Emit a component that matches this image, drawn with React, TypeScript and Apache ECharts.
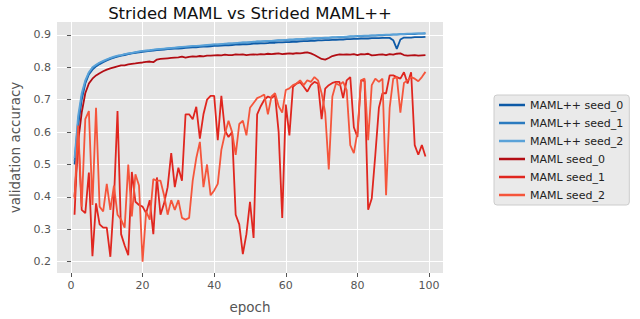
import React, { useEffect, useRef } from "react";
import * as echarts from "echarts";

const epochs: number[] = Array.from({ length: 99 }, (_, i) => i + 1);

const mamlppSeed0 = [
  0.50, 0.62, 0.70, 0.75, 0.778, 0.793, 0.803, 0.81, 0.816, 0.821,
  0.826, 0.83, 0.833, 0.836, 0.838, 0.841, 0.843, 0.845, 0.846, 0.848,
  0.849, 0.851, 0.852, 0.853, 0.854, 0.855, 0.856, 0.857, 0.858, 0.858,
  0.859, 0.86, 0.861, 0.862, 0.862, 0.863, 0.864, 0.864, 0.865, 0.866,
  0.866, 0.867, 0.868, 0.868, 0.869, 0.87, 0.87, 0.871, 0.871, 0.872,
  0.873, 0.873, 0.874, 0.874, 0.875, 0.876, 0.876, 0.877, 0.877, 0.878,
  0.878, 0.879, 0.879, 0.88, 0.881, 0.881, 0.882, 0.882, 0.883, 0.883,
  0.884, 0.884, 0.885, 0.885, 0.886, 0.886, 0.887, 0.887, 0.888, 0.888,
  0.889, 0.889, 0.889, 0.89, 0.89, 0.89, 0.891, 0.891, 0.891, 0.884,
  0.857, 0.886, 0.892, 0.892, 0.892, 0.893, 0.893, 0.893, 0.894,
];

const mamlppSeed1 = [
  0.51, 0.635, 0.71, 0.755, 0.782, 0.797, 0.806, 0.813, 0.818, 0.823,
  0.828, 0.831, 0.835, 0.837, 0.84, 0.842, 0.844, 0.846, 0.848, 0.85,
  0.851, 0.852, 0.854, 0.855, 0.856, 0.857, 0.858, 0.859, 0.86, 0.861,
  0.862, 0.863, 0.864, 0.865, 0.865, 0.866, 0.867, 0.868, 0.869, 0.87,
  0.87, 0.871, 0.872, 0.873, 0.873, 0.874, 0.875, 0.876, 0.876, 0.877,
  0.878, 0.879, 0.879, 0.88, 0.881, 0.881, 0.882, 0.883, 0.883, 0.884,
  0.885, 0.885, 0.886, 0.886, 0.887, 0.888, 0.888, 0.889, 0.889, 0.89,
  0.891, 0.891, 0.892, 0.892, 0.893, 0.893, 0.894, 0.895, 0.895, 0.896,
  0.896, 0.897, 0.897, 0.898, 0.898, 0.899, 0.899, 0.9, 0.9, 0.901,
  0.901, 0.902, 0.902, 0.903, 0.903, 0.903, 0.904, 0.904, 0.904,
];

const mamlppSeed2 = [
  0.52, 0.65, 0.72, 0.76, 0.785, 0.8, 0.808, 0.815, 0.82, 0.825,
  0.829, 0.833, 0.836, 0.838, 0.841, 0.843, 0.845, 0.847, 0.849, 0.851,
  0.852, 0.853, 0.855, 0.856, 0.857, 0.858, 0.859, 0.86, 0.861, 0.862,
  0.863, 0.864, 0.865, 0.866, 0.866, 0.867, 0.868, 0.869, 0.87, 0.871,
  0.871, 0.872, 0.873, 0.874, 0.874, 0.875, 0.876, 0.877, 0.877, 0.878,
  0.879, 0.88, 0.88, 0.881, 0.882, 0.882, 0.883, 0.884, 0.884, 0.885,
  0.886, 0.886, 0.887, 0.887, 0.888, 0.889, 0.889, 0.89, 0.89, 0.891,
  0.892, 0.892, 0.893, 0.893, 0.894, 0.894, 0.895, 0.896, 0.896, 0.897,
  0.897, 0.898, 0.898, 0.899, 0.899, 0.9, 0.9, 0.901, 0.901, 0.902,
  0.902, 0.903, 0.903, 0.904, 0.904, 0.905, 0.905, 0.905, 0.906,
];

const mamlSeed0 = [
  0.40, 0.57, 0.66, 0.72, 0.75, 0.765, 0.775, 0.782, 0.788, 0.793,
  0.797, 0.8, 0.803, 0.806, 0.806, 0.809, 0.811, 0.812, 0.814, 0.815,
  0.817, 0.818, 0.816, 0.824, 0.826, 0.827, 0.828, 0.829, 0.83, 0.831,
  0.833, 0.83, 0.832, 0.834, 0.833, 0.835, 0.834, 0.836, 0.836, 0.837,
  0.838, 0.837, 0.839, 0.838, 0.838, 0.84, 0.839, 0.84, 0.838, 0.839,
  0.84, 0.839, 0.841, 0.84, 0.842, 0.841, 0.842, 0.843, 0.841, 0.842,
  0.843, 0.842, 0.844, 0.843, 0.845, 0.846, 0.843, 0.838, 0.832, 0.826,
  0.824, 0.829, 0.835, 0.838, 0.84, 0.839, 0.84, 0.839, 0.841, 0.838,
  0.841, 0.84, 0.842, 0.837, 0.838, 0.839, 0.84, 0.838, 0.841, 0.839,
  0.842, 0.843, 0.838, 0.836, 0.837, 0.838, 0.836, 0.837, 0.838,
];

const mamlSeed1 = [
  0.345, 0.6, 0.36, 0.35, 0.475, 0.217, 0.38, 0.315, 0.305, 0.305,
  0.215, 0.39, 0.665, 0.285, 0.25, 0.22, 0.477, 0.385, 0.375, 0.37,
  0.35, 0.39, 0.285, 0.46, 0.345, 0.38, 0.43, 0.535, 0.43, 0.49,
  0.45, 0.655, 0.655, 0.64, 0.678, 0.58, 0.655, 0.7, 0.712, 0.712,
  0.575, 0.712, 0.605, 0.585, 0.6, 0.345, 0.315, 0.223, 0.285, 0.385,
  0.273, 0.655, 0.68, 0.7, 0.71, 0.705, 0.714, 0.6, 0.335, 0.685,
  0.59, 0.74, 0.75, 0.754, 0.74, 0.725, 0.745, 0.755, 0.75, 0.64,
  0.734, 0.745, 0.752, 0.755, 0.755, 0.705, 0.76, 0.77, 0.615, 0.585,
  0.76, 0.758, 0.36, 0.395, 0.53, 0.675, 0.72, 0.72, 0.775, 0.775,
  0.77, 0.765, 0.785, 0.75, 0.785, 0.56, 0.53, 0.56, 0.525,
];

const mamlSeed2 = [
  0.395, 0.62, 0.37, 0.64, 0.665, 0.375, 0.675, 0.37, 0.355, 0.44,
  0.36, 0.435, 0.345, 0.33, 0.305, 0.5, 0.34, 0.47, 0.435, 0.2,
  0.355, 0.33, 0.455, 0.45, 0.45, 0.405, 0.345, 0.39, 0.36, 0.39,
  0.335, 0.33, 0.335, 0.45, 0.52, 0.57, 0.43, 0.5, 0.405, 0.42,
  0.44, 0.545, 0.595, 0.635, 0.6, 0.53, 0.625, 0.635, 0.59, 0.675,
  0.69, 0.705, 0.71, 0.716, 0.655, 0.71, 0.72, 0.68, 0.66, 0.73,
  0.735, 0.745, 0.75, 0.76, 0.745, 0.76, 0.755, 0.77, 0.76, 0.72,
  0.66, 0.485, 0.71, 0.75, 0.745, 0.755, 0.73, 0.56, 0.535, 0.6,
  0.76, 0.765, 0.575, 0.745, 0.765, 0.755, 0.765, 0.405, 0.675, 0.765,
  0.77, 0.66, 0.752, 0.76, 0.77, 0.765, 0.757, 0.77, 0.786,
];

const seriesNames = [
  "MAML++ seed_0",
  "MAML++ seed_1",
  "MAML++ seed_2",
  "MAML seed_0",
  "MAML seed_1",
  "MAML seed_2",
];
const seriesData = [mamlppSeed0, mamlppSeed1, mamlppSeed2, mamlSeed0, mamlSeed1, mamlSeed2];
const seriesColors = ["#0d5aa7", "#2a7abf", "#5aa2d8", "#b30d14", "#e0261f", "#f5553b"];

const xTicks = [0, 20, 40, 60, 80, 100];
const yTicks = [0.2, 0.3, 0.4, 0.5, 0.6, 0.7, 0.8, 0.9];

const FONT = "DejaVu Sans";

export default function App() {
  const ref = useRef<HTMLDivElement>(null);
  useEffect(() => {
    if (!ref.current) return;
    const chart = echarts.init(ref.current, undefined, { renderer: "svg" });
    chart.setOption({
      animation: false,
      backgroundColor: "#ffffff",
      textStyle: { fontFamily: FONT },
      title: {
        text: "Strided MAML vs Strided MAML++",
        left: 245,
        textAlign: "center",
        top: 0,
        textStyle: { fontFamily: FONT, fontSize: 16.5, fontWeight: "normal", color: "#111" },
      },
      grid: { left: 47, right: 197, top: 22, bottom: 40, show: true, backgroundColor: "#e5e5e5", borderWidth: 0 },
      legend: {
        orient: "vertical",
        left: 494,
        top: 95,
        icon: "rect",
        itemWidth: 26,
        itemHeight: 2.5,
        itemGap: 4,
        padding: [3, 6, 3, 5],
        backgroundColor: "#eaeaea",
        borderColor: "#cccccc",
        borderWidth: 1,
        borderRadius: 3,
        textStyle: { fontFamily: FONT, fontSize: 11, color: "#222", lineHeight: 14 },
        data: seriesNames,
      },
      xAxis: {
        type: "value",
        min: -3.9,
        max: 103.9,
        name: "epoch",
        nameLocation: "middle",
        nameGap: 27,
        nameTextStyle: { fontFamily: FONT, fontSize: 13.5, color: "#555" },
        axisLine: { show: false },
        axisTick: { show: true, customValues: xTicks, length: 4, lineStyle: { color: "#555" } },
        axisLabel: { customValues: xTicks, fontFamily: FONT, fontSize: 11, color: "#555", margin: 7 },
        splitLine: { show: true, lineStyle: { color: "#ffffff", width: 1 } },
      },
      yAxis: {
        type: "value",
        min: 0.165,
        max: 0.94,
        splitNumber: 8,
        name: "validation accuracy",
        nameLocation: "middle",
        nameGap: 35,
        nameTextStyle: { fontFamily: FONT, fontSize: 13.5, color: "#555" },
        axisLine: { show: false },
        axisTick: { show: true, customValues: yTicks, length: 4, lineStyle: { color: "#555" } },
        axisLabel: {
          customValues: yTicks,
          fontFamily: FONT,
          fontSize: 11,
          color: "#555",
          margin: 6,
          formatter: (v: number) => v.toFixed(1),
        },
        splitLine: { show: true, lineStyle: { color: "#ffffff", width: 1 } },
      },
      series: seriesNames.map((name, i) => ({
        name,
        type: "line",
        data: epochs.map((e, j) => [e, seriesData[i][j]]),
        showSymbol: false,
        symbol: "none",
        lineStyle: { color: seriesColors[i], width: 1.8 },
        itemStyle: { color: seriesColors[i] },
      })),
    });
    return () => chart.dispose();
  }, []);
  return (
    <div
      ref={ref}
      style={{ position: "fixed", left: 0, top: 0, width: 640, height: 319 }}
    />
  );
}
